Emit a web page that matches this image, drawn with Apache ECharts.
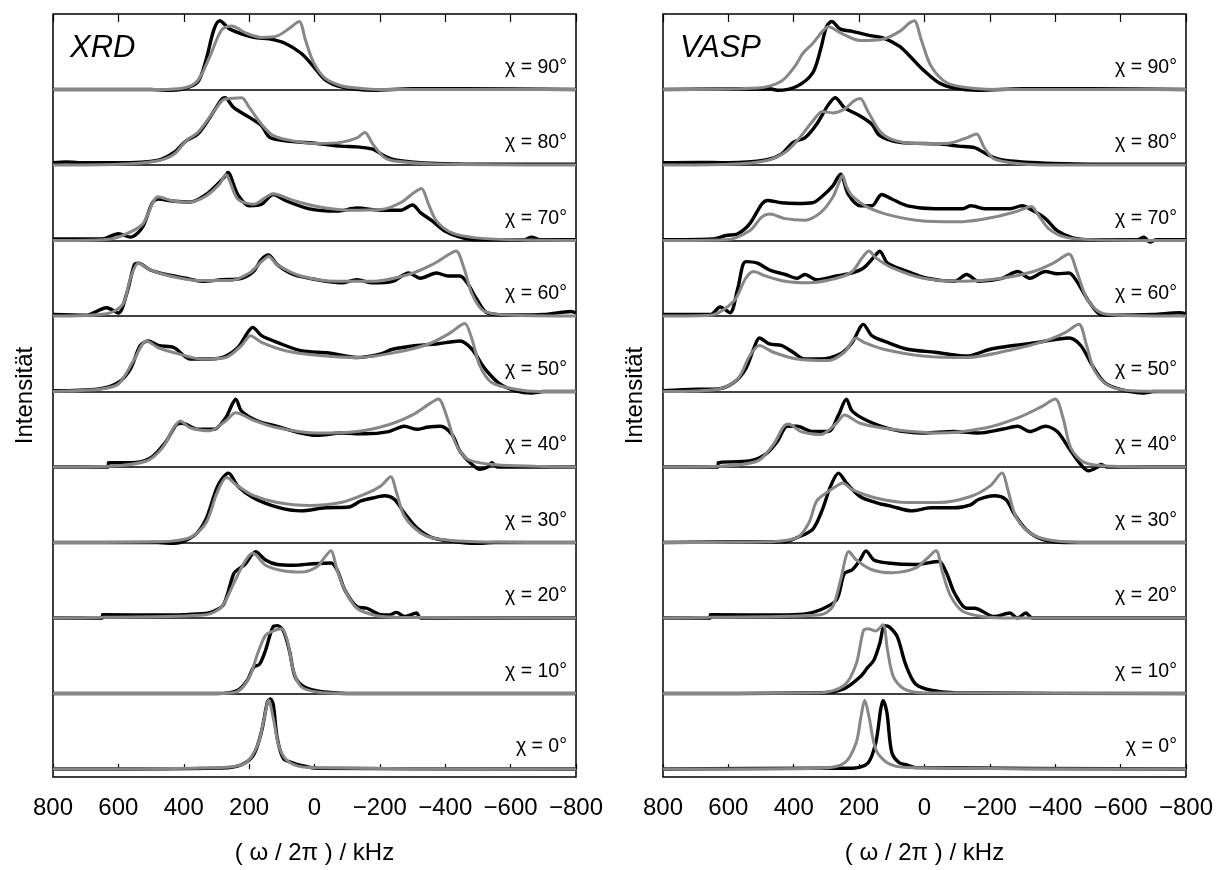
<!DOCTYPE html>
<html>
<head>
<meta charset="utf-8">
<script src="https://cdn.jsdelivr.net/npm/echarts@6/dist/echarts.min.js"></script>
<style>
html,body{margin:0;padding:0;background:#fff;}
#chart{width:1216px;height:870px;}
</style>
</head>
<body>
<div id="chart"></div>
<script>
// ---- Data: [frequency (kHz), normalized intensity] ----
const chiLabels = ['χ = 0°','χ = 10°','χ = 20°','χ = 30°','χ = 40°','χ = 50°','χ = 60°','χ = 70°','χ = 80°','χ = 90°'];
const panelNames = ['XRD', 'VASP'];
const xTicks = [800, 600, 400, 200, 0, -200, -400, -600, -800];

// XRD panel, experiment (black)
const xrdExp0 = [[800,0],[284,0.013],[223,0.057],[186,0.19],[162,0.5],[144,0.89],[135,0.93],[126,0.85],[114,0.41],[95,0.14],[65,0.08],[41,0.05],[-8,0.01],[-800,0]];
const xrdExp10 = [[800,0],[300,0],[235,0.044],[205,0.18],[186,0.35],[168,0.39],[150,0.57],[126,0.89],[114,0.9],[95,0.83],[77,0.57],[59,0.22],[28,0.08],[-32,0.02],[-100,0],[-800,0]];
const xrdExp20 = [[800,0],[650,0],[648,0.044],[500,0.04],[400,0.045],[332,0.06],[308,0.09],[278,0.18],[247,0.59],[235,0.64],[211,0.72],[180,0.88],[150,0.77],[114,0.71],[65,0.7],[4,0.72],[-50,0.73],[-69,0.64],[-93,0.37],[-130,0.15],[-160,0.13],[-203,0.044],[-227,0.04],[-251,0.075],[-275,0.02],[-312,0.066],[-325,0],[-800,0]];
const xrdExp30 = [[800,0],[480,0],[429,-0.01],[369,0.09],[332,0.31],[296,0.75],[263,0.92],[235,0.75],[186,0.59],[114,0.47],[41,0.42],[-32,0.46],[-105,0.47],[-141,0.55],[-178,0.59],[-214,0.62],[-245,0.57],[-275,0.39],[-312,0.2],[-360,0.066],[-433,0.01],[-494,-0.01],[-550,0],[-800,0]];
const xrdExp40 = [[800,0],[632,0],[630,0.057],[563,0.057],[502,0.12],[454,0.34],[423,0.56],[405,0.58],[357,0.5],[308,0.5],[272,0.65],[253,0.82],[241,0.9],[223,0.74],[174,0.61],[114,0.54],[41,0.45],[-8,0.42],[-81,0.45],[-154,0.44],[-227,0.47],[-275,0.54],[-312,0.5],[-349,0.53],[-385,0.54],[-421,0.43],[-445,0.21],[-482,0.035],[-506,-0.03],[-530,0],[-542,0.057],[-560,0],[-800,0]];
const xrdExp50 = [[800,0.01],[660,0.035],[600,0.12],[563,0.3],[533,0.61],[508,0.67],[478,0.61],[429,0.58],[381,0.43],[344,0.43],[284,0.45],[235,0.58],[205,0.78],[189,0.85],[162,0.74],[114,0.65],[41,0.54],[-44,0.51],[-130,0.45],[-203,0.5],[-239,0.56],[-312,0.61],[-373,0.63],[-445,0.67],[-482,0.56],[-518,0.32],[-567,0.1],[-615,0.01],[-664,-0.02],[-700,0],[-800,0]];
const xrdExp60 = [[800,0.02],[700,0.01],[636,0.11],[600,0.04],[575,0.29],[551,0.68],[539,0.7],[502,0.61],[454,0.55],[393,0.5],[344,0.46],[284,0.48],[223,0.5],[187,0.59],[162,0.75],[141,0.81],[114,0.68],[65,0.55],[-8,0.48],[-81,0.44],[-130,0.48],[-178,0.44],[-239,0.46],[-288,0.57],[-324,0.5],[-373,0.57],[-409,0.53],[-445,0.53],[-470,0.42],[-494,0.24],[-530,0.04],[-615,0.013],[-700,0.02],[-785,0.06],[-800,0.04]];
const xrdExp70 = [[800,0.02],[650,0.02],[600,0.09],[563,0.045],[527,0.17],[496,0.5],[478,0.55],[429,0.52],[381,0.51],[332,0.61],[296,0.75],[272,0.86],[265,0.9],[235,0.61],[199,0.46],[162,0.48],[126,0.61],[89,0.53],[16,0.42],[-69,0.39],[-130,0.43],[-203,0.4],[-263,0.4],[-300,0.47],[-324,0.37],[-360,0.26],[-397,0.13],[-445,0.045],[-494,0.01],[-640,0.01],[-664,0.045],[-690,0.01],[-800,0.01]];
const xrdExp80 = [[800,0.03],[760,0.04],[700,0.03],[600,0.03],[478,0.065],[429,0.17],[393,0.32],[357,0.41],[320,0.63],[284,0.87],[274,0.89],[247,0.76],[199,0.63],[162,0.52],[138,0.37],[89,0.32],[-8,0.285],[-81,0.25],[-130,0.24],[-178,0.21],[-214,0.12],[-251,0.065],[-372,0.02],[-500,0.01],[-800,0.01]];
const xrdExp90 = [[800,0],[500,0],[454,-0.01],[400,0.01],[357,0.1],[332,0.39],[308,0.79],[290,0.91],[259,0.8],[186,0.69],[138,0.67],[89,0.61],[41,0.48],[4,0.31],[-32,0.13],[-81,0.035],[-178,-0.01],[-300,0.01],[-450,0.01],[-800,0]];

// XRD panel, simulation (grey)
const xrdSim0 = [[800,0],[284,0.02],[211,0.08],[174,0.32],[156,0.63],[140,0.91],[126,0.67],[107,0.28],[77,0.09],[16,0.02],[-800,0]];
const xrdSim10 = [[800,0],[300,0],[235,0.03],[199,0.22],[174,0.53],[150,0.77],[126,0.83],[101,0.86],[83,0.7],[65,0.31],[41,0.09],[-8,0.02],[-100,0],[-800,0]];
const xrdSim20 = [[800,0],[648,0.01],[332,0.044],[284,0.15],[247,0.46],[217,0.72],[189,0.86],[150,0.7],[101,0.63],[41,0.61],[-8,0.68],[-32,0.81],[-50,0.89],[-69,0.64],[-93,0.37],[-130,0.13],[-190,0.03],[-251,0.01],[-800,0]];
const xrdSim30 = [[800,0],[478,0.01],[381,0.066],[332,0.26],[298,0.66],[269,0.86],[235,0.75],[186,0.62],[114,0.53],[16,0.49],[-81,0.53],[-154,0.64],[-203,0.75],[-233,0.87],[-251,0.66],[-275,0.35],[-324,0.13],[-373,0.05],[-494,0.01],[-800,0]];
const xrdSim40 = [[800,0],[630,0.01],[514,0.08],[466,0.25],[429,0.53],[411,0.61],[381,0.52],[320,0.48],[272,0.61],[241,0.72],[187,0.62],[114,0.52],[-8,0.45],[-130,0.47],[-227,0.56],[-300,0.69],[-349,0.83],[-379,0.9],[-403,0.69],[-433,0.3],[-470,0.1],[-555,0.03],[-676,0.01],[-800,0]];
const xrdSim50 = [[800,0],[660,0.03],[600,0.1],[551,0.43],[514,0.67],[478,0.58],[417,0.5],[344,0.43],[272,0.45],[223,0.61],[196,0.74],[162,0.65],[89,0.54],[-8,0.48],[-130,0.45],[-251,0.52],[-349,0.63],[-409,0.76],[-445,0.87],[-460,0.9],[-482,0.69],[-506,0.34],[-542,0.12],[-615,0.03],[-688,0],[-800,0]];
const xrdSim60 = [[800,0],[636,0.03],[587,0.15],[563,0.5],[539,0.7],[502,0.61],[442,0.53],[357,0.47],[259,0.47],[199,0.57],[162,0.72],[140,0.79],[114,0.68],[41,0.53],[-69,0.46],[-178,0.46],[-288,0.55],[-360,0.68],[-409,0.81],[-433,0.86],[-457,0.64],[-482,0.29],[-518,0.066],[-591,0.013],[-800,0]];
const xrdSim70 = [[800,0],[650,0.01],[600,0.045],[527,0.21],[478,0.58],[429,0.52],[381,0.51],[332,0.59],[290,0.75],[272,0.87],[235,0.55],[187,0.48],[126,0.62],[65,0.53],[-8,0.45],[-105,0.4],[-203,0.41],[-263,0.5],[-306,0.64],[-327,0.69],[-349,0.48],[-373,0.26],[-421,0.1],[-494,0.035],[-615,0.01],[-800,0]];
const xrdSim80 = [[800,0],[600,0.01],[478,0.057],[429,0.145],[393,0.32],[357,0.43],[308,0.71],[277,0.87],[259,0.88],[223,0.89],[199,0.76],[162,0.54],[126,0.39],[65,0.32],[-8,0.285],[-81,0.3],[-130,0.36],[-154,0.43],[-178,0.28],[-214,0.1],[-251,0.05],[-372,0.013],[-800,0]];
const xrdSim90 = [[800,0],[480,0],[400,0.02],[357,0.12],[320,0.44],[284,0.79],[253,0.84],[211,0.75],[162,0.69],[114,0.71],[77,0.81],[47,0.9],[28,0.66],[4,0.37],[-32,0.15],[-81,0.05],[-130,0.02],[-200,0],[-800,0]];

// VASP panel, experiment (black)
const vaspExp0 = [[800,0],[318,0.01],[221,0.01],[173,0.08],[149,0.35],[134,0.79],[127,0.91],[115,0.75],[100,0.22],[76,0.08],[52,0.053],[28,0.02],[-800,0]];
const vaspExp10 = [[800,0],[318,0.01],[245,0.066],[197,0.22],[173,0.35],[155,0.44],[137,0.66],[122,0.9],[107,0.88],[83,0.75],[58,0.39],[28,0.13],[-20,0.044],[-92,0.01],[-800,0]];
const vaspExp20 = [[800,0],[656,0],[655,0.044],[450,0.04],[370,0.05],[318,0.11],[269,0.24],[245,0.59],[221,0.64],[197,0.77],[179,0.89],[155,0.77],[113,0.73],[28,0.71],[-44,0.75],[-68,0.59],[-92,0.33],[-129,0.13],[-153,0.13],[-213,0.02],[-261,0.066],[-285,0],[-310,0.066],[-330,0],[-800,0]];
const vaspExp30 = [[800,0],[474,0.01],[426,0.01],[390,0.066],[342,0.175],[312,0.44],[287,0.75],[263,0.92],[239,0.79],[197,0.61],[149,0.53],[100,0.48],[40,0.42],[-20,0.46],[-92,0.46],[-141,0.5],[-165,0.57],[-213,0.62],[-249,0.57],[-273,0.39],[-310,0.175],[-358,0.044],[-430,0],[-800,0]];
const vaspExp40 = [[800,0],[632,0],[631,0.057],[535,0.08],[486,0.17],[450,0.34],[420,0.54],[390,0.54],[342,0.47],[294,0.47],[263,0.69],[239,0.9],[221,0.74],[173,0.61],[100,0.5],[4,0.45],[-92,0.47],[-165,0.45],[-237,0.5],[-285,0.54],[-322,0.47],[-370,0.54],[-406,0.47],[-442,0.25],[-478,0.035],[-502,-0.05],[-530,0],[-539,0.035],[-560,0],[-800,0]];
const vaspExp50 = [[800,0.01],[700,0.03],[631,0.035],[583,0.12],[547,0.3],[523,0.56],[505,0.71],[474,0.63],[438,0.61],[402,0.52],[366,0.43],[318,0.43],[257,0.5],[221,0.65],[187,0.89],[161,0.74],[113,0.65],[52,0.56],[-32,0.52],[-129,0.47],[-201,0.56],[-273,0.61],[-346,0.65],[-442,0.71],[-478,0.61],[-514,0.34],[-551,0.12],[-599,0.03],[-671,-0.02],[-700,0],[-800,0]];
const vaspExp60 = [[800,0.02],[655,0.02],[625,0.12],[595,0.044],[571,0.37],[547,0.72],[511,0.7],[474,0.61],[426,0.55],[390,0.5],[366,0.55],[330,0.48],[269,0.53],[221,0.57],[185,0.64],[149,0.81],[137,0.86],[113,0.7],[64,0.61],[-8,0.5],[-92,0.46],[-129,0.55],[-165,0.46],[-237,0.5],[-285,0.59],[-322,0.5],[-370,0.59],[-406,0.56],[-442,0.57],[-466,0.46],[-502,0.2],[-539,0.02],[-575,0.01],[-700,0.02],[-780,0.044],[-800,0.03]];
const vaspExp70 = [[800,0.01],[650,0.02],[607,0.066],[571,0.09],[535,0.22],[498,0.48],[480,0.53],[438,0.5],[390,0.49],[342,0.5],[312,0.59],[281,0.72],[257,0.88],[233,0.61],[197,0.46],[161,0.46],[131,0.61],[100,0.55],[52,0.46],[-32,0.42],[-117,0.42],[-141,0.46],[-189,0.42],[-261,0.42],[-298,0.46],[-334,0.39],[-370,0.29],[-406,0.13],[-454,0.035],[-520,0.01],[-650,0.01],[-671,0.045],[-690,-0.02],[-710,0.01],[-800,0.01]];
const vaspExp80 = [[800,0.03],[700,0.035],[600,0.03],[486,0.066],[438,0.145],[402,0.3],[366,0.36],[330,0.54],[294,0.8],[273,0.89],[245,0.76],[197,0.65],[161,0.54],[137,0.39],[76,0.3],[-44,0.28],[-104,0.25],[-153,0.23],[-201,0.12],[-249,0.06],[-394,0.02],[-550,0.01],[-800,0.01]];
const vaspExp90 = [[800,0],[474,0.01],[450,-0.01],[390,0.044],[342,0.22],[318,0.53],[300,0.83],[284,0.9],[257,0.8],[221,0.77],[173,0.72],[125,0.68],[76,0.57],[40,0.42],[4,0.26],[-44,0.09],[-92,0.02],[-165,-0.01],[-300,0.01],[-500,0.01],[-800,0]];

// VASP panel, simulation (grey)
const vaspSim0 = [[800,0],[318,0.01],[245,0.08],[209,0.35],[194,0.7],[183,0.91],[170,0.7],[149,0.26],[113,0.08],[52,0.02],[-800,0]];
const vaspSim10 = [[800,0],[318,0.01],[245,0.11],[209,0.39],[187,0.83],[173,0.86],[149,0.83],[127,0.91],[113,0.57],[95,0.22],[64,0.066],[4,0.01],[-800,0]];
const vaspSim20 = [[800,0],[655,0.01],[318,0.044],[281,0.15],[257,0.5],[231,0.88],[209,0.77],[161,0.64],[100,0.6],[28,0.66],[-8,0.79],[-35,0.89],[-56,0.59],[-80,0.29],[-117,0.09],[-177,0.02],[-260,0],[-800,0]];
const vaspSim30 = [[800,0],[486,0.01],[390,0.066],[354,0.26],[330,0.55],[300,0.66],[269,0.75],[251,0.79],[221,0.7],[149,0.59],[52,0.53],[-44,0.53],[-141,0.61],[-201,0.75],[-237,0.92],[-255,0.7],[-279,0.35],[-322,0.13],[-382,0.035],[-515,0],[-800,0]];
const vaspSim40 = [[800,0],[631,0.01],[511,0.08],[462,0.3],[432,0.53],[416,0.57],[378,0.47],[318,0.43],[269,0.58],[245,0.69],[197,0.58],[100,0.5],[-44,0.45],[-189,0.52],[-285,0.65],[-358,0.8],[-400,0.9],[-424,0.65],[-448,0.25],[-490,0.057],[-575,0.01],[-800,0]];
const vaspSim50 = [[800,0],[631,0.03],[571,0.17],[535,0.47],[505,0.61],[462,0.52],[390,0.43],[294,0.41],[245,0.52],[209,0.71],[185,0.65],[125,0.56],[4,0.47],[-129,0.45],[-273,0.56],[-370,0.67],[-430,0.78],[-472,0.89],[-496,0.61],[-520,0.28],[-563,0.08],[-635,0.01],[-800,0]];
const vaspSim60 = [[800,0],[655,0.01],[583,0.2],[547,0.5],[523,0.59],[486,0.53],[426,0.46],[354,0.44],[269,0.5],[221,0.59],[191,0.77],[170,0.86],[149,0.77],[100,0.64],[4,0.5],[-117,0.46],[-237,0.5],[-334,0.59],[-394,0.7],[-442,0.82],[-466,0.59],[-496,0.24],[-539,0.044],[-599,0.01],[-800,0]];
const vaspSim70 = [[800,0],[607,0.01],[535,0.13],[498,0.31],[474,0.35],[426,0.29],[366,0.27],[318,0.37],[281,0.57],[263,0.75],[251,0.86],[239,0.72],[221,0.59],[173,0.44],[100,0.33],[4,0.26],[-117,0.25],[-213,0.31],[-285,0.39],[-327,0.45],[-346,0.35],[-382,0.15],[-430,0.045],[-515,0.01],[-800,0]];
const vaspSim80 = [[800,0],[600,0.01],[486,0.057],[426,0.17],[390,0.32],[342,0.58],[312,0.71],[281,0.69],[245,0.74],[215,0.85],[197,0.88],[173,0.71],[137,0.45],[100,0.34],[28,0.285],[-68,0.285],[-129,0.36],[-159,0.41],[-183,0.23],[-213,0.08],[-285,0.02],[-400,0],[-800,0]];
const vaspSim90 = [[800,0],[511,0.02],[438,0.11],[396,0.31],[372,0.48],[342,0.61],[312,0.77],[294,0.83],[257,0.75],[197,0.65],[125,0.67],[76,0.77],[46,0.88],[31,0.91],[10,0.66],[-20,0.31],[-68,0.09],[-141,0.02],[-250,0],[-800,0]];

const panels = [
  { exp: [xrdExp0,xrdExp10,xrdExp20,xrdExp30,xrdExp40,xrdExp50,xrdExp60,xrdExp70,xrdExp80,xrdExp90],
    sim: [xrdSim0,xrdSim10,xrdSim20,xrdSim30,xrdSim40,xrdSim50,xrdSim60,xrdSim70,xrdSim80,xrdSim90] },
  { exp: [vaspExp0,vaspExp10,vaspExp20,vaspExp30,vaspExp40,vaspExp50,vaspExp60,vaspExp70,vaspExp80,vaspExp90],
    sim: [vaspSim0,vaspSim10,vaspSim20,vaspSim30,vaspSim40,vaspSim50,vaspSim60,vaspSim70,vaspSim80,vaspSim90] }
];

// ---- Chart ----
const FONT = '"Liberation Sans", Arial, Helvetica, sans-serif';
const chart = echarts.init(document.getElementById('chart'), null, { renderer: 'canvas' });
const gridLefts = [53, 663];
const grids = gridLefts.map(l => ({ left: l, top: 14, width: 523, height: 767, show: true,
  borderColor: '#000', borderWidth: 1.5, backgroundColor: 'transparent' }));
const fmt = v => String(v).replace('-', '\u2212');

const xAxes = [];
const yAxes = [];
for (let g = 0; g < 2; g++) {
  xAxes.push({ type: 'value', gridIndex: g, position: 'bottom', min: -800, max: 800, interval: 200, inverse: true,
    axisLine: { show: false }, splitLine: { show: false },
    axisTick: { show: true, inside: true, length: 5, lineStyle: { color: '#000', width: 1.2 } },
    axisLabel: { show: true, fontSize: 24, color: '#000', margin: 19, fontFamily: FONT, formatter: fmt,
      showMinLabel: true, showMaxLabel: true },
    name: '( ω / 2π ) / kHz', nameLocation: 'middle', nameGap: 64,
    nameTextStyle: { fontSize: 24, color: '#000', fontFamily: FONT } });
}
for (let g = 0; g < 2; g++) {
  xAxes.push({ type: 'value', gridIndex: g, position: 'top', min: -800, max: 800, interval: 200, inverse: true,
    axisLine: { show: false }, splitLine: { show: false }, axisLabel: { show: false },
    axisTick: { show: true, inside: true, length: 8, lineStyle: { color: '#000', width: 1.2 } } });
}
for (let g = 0; g < 2; g++) {
  yAxes.push({ type: 'value', gridIndex: g, min: -0.105, max: 10,
    axisLine: { show: false }, axisTick: { show: false }, axisLabel: { show: false }, splitLine: { show: false },
    name: 'Intensität', nameLocation: 'middle', nameGap: 16, nameRotate: 90,
    nameTextStyle: { fontSize: 24, color: '#000', fontFamily: FONT } });
}

const series = [];
for (let g = 0; g < 2; g++) {
  // strip separators
  series.push({ type: 'line', xAxisIndex: g, yAxisIndex: g, data: [], silent: true, z: 1,
    markLine: { silent: true, symbol: ['none', 'none'], z: 1, animation: false,
      label: { show: false }, lineStyle: { color: '#000', width: 1.5, type: 'solid' },
      data: [1,2,3,4,5,6,7,8,9].map(k => ({ yAxis: k })) } });
  for (let k = 0; k < 10; k++) {
    series.push({ type: 'line', xAxisIndex: g, yAxisIndex: g, showSymbol: false, symbol: 'none',
      smooth: 0.3, silent: true, z: 3, animation: false,
      lineStyle: { color: '#000', width: 3.4 },
      data: panels[g].exp[k].map(p => [p[0], p[1] + k]) });
    series.push({ type: 'line', xAxisIndex: g, yAxisIndex: g, showSymbol: false, symbol: 'none',
      smooth: 0.3, silent: true, z: 4, animation: false,
      lineStyle: { color: '#878787', width: 3 },
      data: panels[g].sim[k].map(p => [p[0], p[1] + k]) });
  }
}

chart.setOption({ animation: false, backgroundColor: '#fff', grid: grids, xAxis: xAxes, yAxis: yAxes, series: series });

// text labels positioned through the axes
const graphics = [];
for (let g = 0; g < 2; g++) {
  for (let k = 0; k < 10; k++) {
    const p = chart.convertToPixel({ xAxisIndex: g, yAxisIndex: g }, [-800, k]);
    graphics.push({ type: 'text', x: p[0] - 9, y: p[1] - 22, z: 10,
      style: { text: chiLabels[k], fill: '#000', fontSize: 19.5, fontFamily: FONT, textAlign: 'right', textVerticalAlign: 'middle' } });
  }
  const q = chart.convertToPixel({ xAxisIndex: g, yAxisIndex: g }, [800, 10]);
  graphics.push({ type: 'text', x: q[0] + 17, y: q[1] + 34, z: 10,
    style: { text: panelNames[g], fill: '#000', fontSize: 31, fontStyle: 'italic', fontFamily: FONT, textAlign: 'left', textVerticalAlign: 'middle' } });
}
chart.setOption({ graphic: graphics });
</script>
</body>
</html>
